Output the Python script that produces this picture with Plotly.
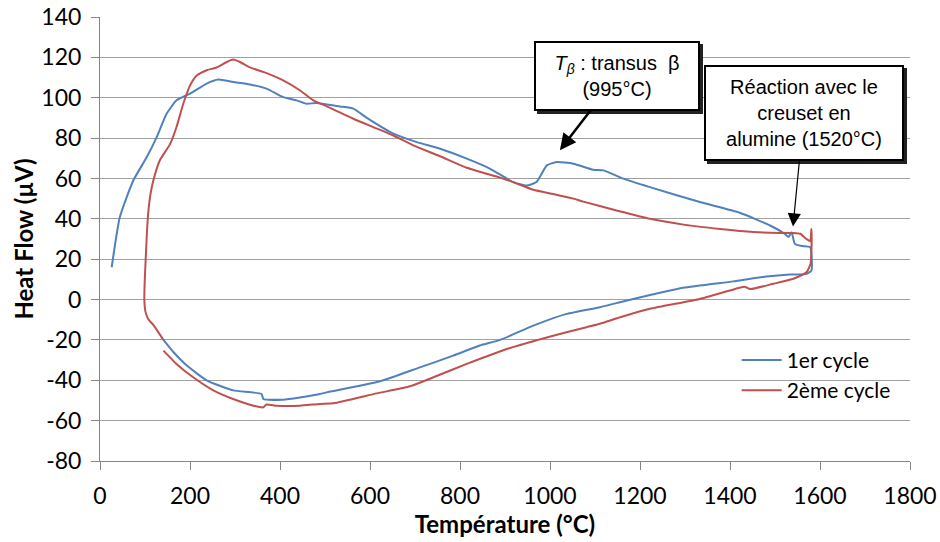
import plotly.graph_objs as go

# 1er cycle : chauffe (branche haute) puis refroidissement (branche basse)
temp_cycle1 = [26, 44, 74, 104, 126, 148, 170, 200, 237, 263, 296, 333, 370, 407, 437, 459, 481,
               533, 563, 593, 652, 704, 756, 815, 867, 918, 948, 970, 993, 1015, 1052, 1096, 1119,
               1163, 1222, 1333, 1422, 1489, 1522, 1530, 1537, 1544, 1560, 1578,
               1581, 1570, 1533, 1481, 1407, 1296, 1185, 1156, 1111, 1037, 963, 889, 844, 785,
               711, 622, 504, 489, 444, 407, 363, 359, 296, 237, 193, 163, 141]
flux_cycle1 = [16, 40.8, 59, 70.6, 80.5, 92, 98.7, 102, 107, 109, 107.8, 106.6, 104.5, 100.3, 98.7, 97, 97.4,
               95.7, 94.6, 90, 82.2, 78, 74.7, 69.8, 64.8, 58.2, 56.5, 58.2, 66.5, 68.1, 67.3, 64.3, 64,
               59.9, 55.7, 48.3, 43, 36.7, 32.5, 31, 33.4, 27.6, 26.5, 26,
               14.4, 12.7, 12.4, 11.4, 9, 5.8, 0.3, -1.3, -3.8, -7.1, -12.9, -20, -22.8, -27.8,
               -33.6, -40.5, -46, -46.8, -48.5, -49.6, -49.3, -46.8, -45, -40, -32.7, -26, -20]

# 2ème cycle
temp_cycle2 = [141, 120, 107, 101, 98.5, 99.5, 101.5, 104, 107, 112, 118.5, 133, 155.6, 170, 185, 200,
               215, 237, 259, 281.5, 296, 311, 333, 363, 407, 444, 474, 504, 563, 652, 696, 756, 815,
               889, 918, 963, 1007, 1052, 1074, 1150, 1222, 1300, 1378, 1452, 1511, 1541, 1556, 1570,
               1578, 1581, 1581, 1579, 1570, 1541, 1496, 1445, 1432, 1400, 1333, 1222, 1156, 1111,
               1081, 1007, 904, 815, 741, 689, 615, 519, 489, 444, 393, 370, 363, 341, 296, 252, 207,
               170, 141]
flux_cycle2 = [-20, -13, -9.6, -6, 0, 10, 20, 32, 42.5, 52, 59, 69, 77, 85.5, 97, 106,
               111, 113.6, 115, 117.7, 118.9, 117.7, 115, 112.8, 108.6, 103.7, 98.7, 95.7, 89.6, 81.3, 76.4, 71, 65.3,
               60.4, 58.2, 54.4, 52.3, 50, 48.5, 44, 40, 37, 35, 33.5, 33, 33, 32.6, 30,
               29, 35, 24.3, 17.7, 13.5, 10.3, 7.8, 5.2, 6.3, 4.5, 0.3, -4.6, -8.8, -12,
               -13.7, -17.9, -24.5, -31.9, -38.5, -43, -46.5, -51.4, -51.7, -52.6, -52.6, -52, -53.4, -52.6, -49.3, -45, -38.5,
               -31.9, -25.3]

noms = ['1er cycle', '2ème cycle']
couleurs = ['#4F81BD', '#C0504D']

# graduations (tirets simples comme dans Excel)
y_ticks = [-80, -60, -40, -20, 0, 20, 40, 60, 80, 100, 120, 140]
y_labels = ['-80', '-60', '-40', '-20', '0', '20', '40', '60', '80', '100', '120', '140']

fig = go.Figure()
fig.add_trace(go.Scatter(x=temp_cycle1, y=flux_cycle1, mode='lines', name=noms[0],
                         line=dict(color=couleurs[0], width=2, shape='spline', smoothing=0.5)))
fig.add_trace(go.Scatter(x=temp_cycle2, y=flux_cycle2, mode='lines', name=noms[1],
                         line=dict(color=couleurs[1], width=2, shape='spline', smoothing=0.5)))

police = dict(family='Lato, Open Sans, sans-serif', size=23, color='#000')
police_titre = dict(family='Lato, Open Sans, sans-serif', size=24, color='#000')
police_legende = dict(family='Lato, Open Sans, sans-serif', size=21, color='#000')
police_note = dict(family='Liberation Sans, Arial, sans-serif', size=20, color='#000')

# annotations : d'abord l'ombre (boite vide decalee), puis la boite
notes = [
    dict(x=1022, y=74, ax=57, ay=-74, text='<i>T</i><sub><i>β</i></sub> : transus  β<br>(995°C)',
         width=158, height=62, arrowwidth=2.5, arrowsize=1.3),
    dict(x=1540, y=36.2, ax=11, ay=-113, text='Réaction avec le<br>creuset en<br>alumine (1520°C)',
         width=192, height=88, arrowwidth=1.2, arrowsize=2.2),
]
for n in notes:
    fig.add_annotation(x=n['x'], y=n['y'], ax=n['ax'], ay=n['ay'], text=' ',
                       font=police_note, width=n['width'], height=n['height'],
                       bgcolor='#222', bordercolor='#222', borderwidth=2, borderpad=2,
                       showarrow=True, arrowcolor='rgba(0,0,0,0)', xshift=3, yshift=-3)
    fig.add_annotation(x=n['x'], y=n['y'], ax=n['ax'], ay=n['ay'], text=n['text'],
                       font=police_note, width=n['width'], height=n['height'],
                       bgcolor='white', bordercolor='black', borderwidth=2, borderpad=2,
                       showarrow=True, arrowhead=2, arrowcolor='black',
                       arrowwidth=n['arrowwidth'], arrowsize=n['arrowsize'])

fig.update_layout(
    width=940, height=542,
    margin=dict(l=100, r=30, t=17, b=81),
    paper_bgcolor='white', plot_bgcolor='white',
    font=police,
    legend=dict(x=0.786, y=0.273, xanchor='left', yanchor='top', bgcolor='rgba(0,0,0,0)',
                font=police_legende, tracegroupgap=0, itemwidth=40),
    xaxis=dict(range=[0, 1800], dtick=200, showgrid=False, zeroline=False, automargin=False,
               showline=True, linecolor='#868686', linewidth=1,
               ticks='outside', ticklen=8, tickcolor='#868686', tickfont=police,
               ticklabelstandoff=6,
               title=dict(text='<b>Température (°C)</b>', font=police_titre, standoff=4)),
    yaxis=dict(range=[-80, 140], tickvals=y_ticks, ticktext=y_labels, showgrid=True,
               gridcolor='#a0a0a0', gridwidth=1, automargin=False,
               zeroline=False, showline=True, linecolor='#868686', linewidth=1,
               ticks='outside', ticklen=8, tickcolor='#868686', tickfont=police,
               ticklabelstandoff=5,
               title=dict(text='<b>Heat Flow (µV)</b>', font=police_titre, standoff=0)),
)

# pas de marge autour du graphique dans la page, pas de barre d'outils
fig.write_html('out.html', config={'displayModeBar': False},
               post_script="document.body.style.margin='0px';")
